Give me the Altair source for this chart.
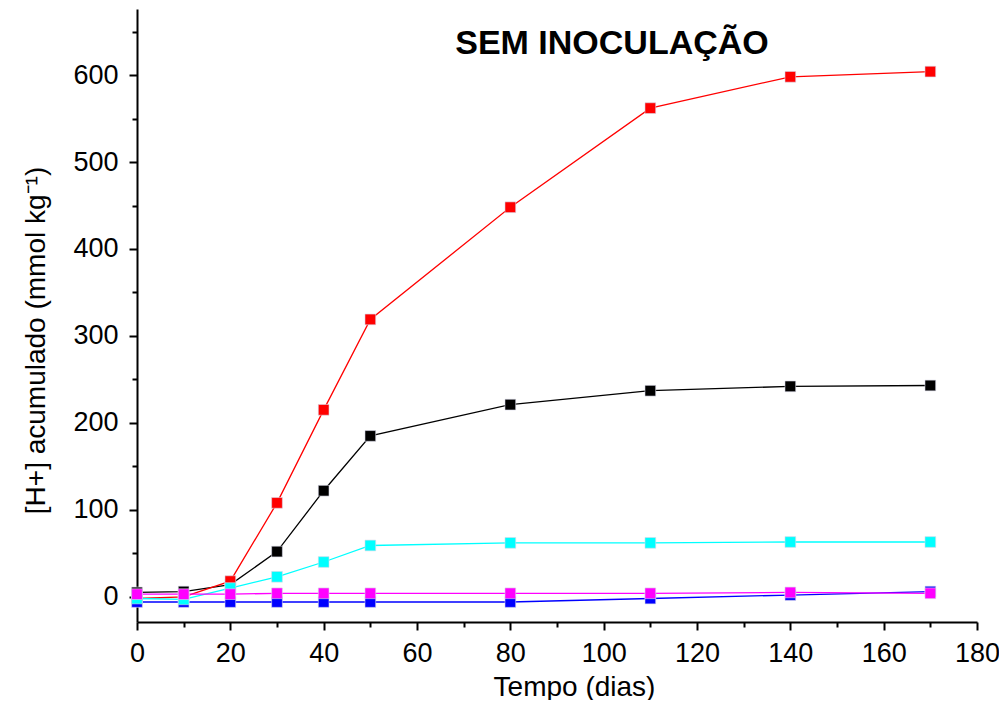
import altair as alt
import pandas as pd

days = [0, 10, 20, 30, 40, 50, 80, 110, 140, 170]
series_names = ["black", "red", "blue", "cyan", "magenta"]
series_colors = ["#000000", "#ff0000", "#0000ff", "#00ffff", "#ff00ff"]
black_vals = [5, 6, 14, 52, 122, 185, 221, 237, 242, 243]
red_vals = [-2, 0, 18, 108, 215, 319, 448, 562, 598, 604]
blue_vals = [-6, -6, -6, -6, -6, -6, -6, -2, 2, 6]
cyan_vals = [-2, -3, 10, 23, 40, 59, 62, 62, 63, 63]
magenta_vals = [3, 3, 3, 4, 4, 4, 4, 4, 5, 4]
title_text = "SEM INOCULAÇÃO"

rows = []
for name, vals in zip(series_names, [black_vals, red_vals, blue_vals, cyan_vals, magenta_vals]):
    for d, v in zip(days, vals):
        rows.append({"dias": d, "H": v, "serie": name, "ordem": series_names.index(name)})
df = pd.DataFrame(rows)

FONT = "Liberation Sans"

xscale = alt.Scale(domain=[0, 180], nice=False)
yscale = alt.Scale(domain=[-29, 676], nice=False, zero=False)
color = alt.Color("serie:N", scale=alt.Scale(domain=series_names, range=series_colors), legend=None)

xaxis = alt.Axis(values=list(range(0, 181, 20)), title="Tempo (dias)", tickSize=8, tickWidth=2,
                 domainWidth=2, domainColor="black", tickColor="black", labelFontSize=27,
                 titleFontSize=28, labelFont=FONT, titleFont=FONT, labelColor="black",
                 titleColor="black", titleFontWeight="normal", grid=False, labelPadding=10,
                 titlePadding=7, titleX=437, orient="bottom", labelFlush=False)
yaxis = alt.Axis(values=list(range(0, 601, 100)), title="[H+] acumulado (mmol kg⁻¹)", tickSize=8,
                 tickWidth=2, domainWidth=2, domainColor="black", tickColor="black", labelFontSize=27,
                 titleFontSize=28, labelFont=FONT, titleFont=FONT, labelColor="black",
                 titleColor="black", titleFontWeight="normal", grid=False, labelPadding=11,
                 titlePadding=22, titleY=331, orient="left")

xminor = alt.Axis(values=list(range(10, 180, 20)), title=None, labels=False, tickSize=5, tickWidth=2,
                  domain=False, tickColor="black", grid=False, orient="bottom")
yminor = alt.Axis(values=[50, 150, 250, 350, 450, 550, 650], title=None,
                  labels=False, tickSize=5, tickWidth=2, domain=False, tickColor="black", grid=False,
                  orient="left")

base = alt.Chart(df)

lines = base.mark_line(strokeWidth=1.3).encode(
    x=alt.X("dias:Q", scale=xscale, axis=xaxis),
    y=alt.Y("H:Q", scale=yscale, axis=yaxis),
    color=color,
    detail="serie:N",
)

points = base.mark_square(size=115, opacity=1, filled=True, stroke="#d8d8e8", strokeWidth=0.6).encode(
    x=alt.X("dias:Q", scale=xscale, axis=xminor),
    y=alt.Y("H:Q", scale=yscale, axis=yminor),
    color=color,
    order=alt.Order("ordem:Q"),
)

title = alt.Chart(pd.DataFrame({"t": [title_text]})).mark_text(
    font=FONT, fontSize=34, fontWeight="bold", color="black", align="center", baseline="middle",
).encode(x=alt.value(475), y=alt.value(35), text="t:N")

chart = alt.layer(lines, points, title).resolve_axis(x="independent", y="independent").properties(
    width=840, height=613, autosize="none", background="white",
    padding={"left": 129, "top": 1, "right": 22, "bottom": 78},
).configure_view(stroke=None)

chart.save("out.html", embed_options={"renderer": "svg", "actions": False})
